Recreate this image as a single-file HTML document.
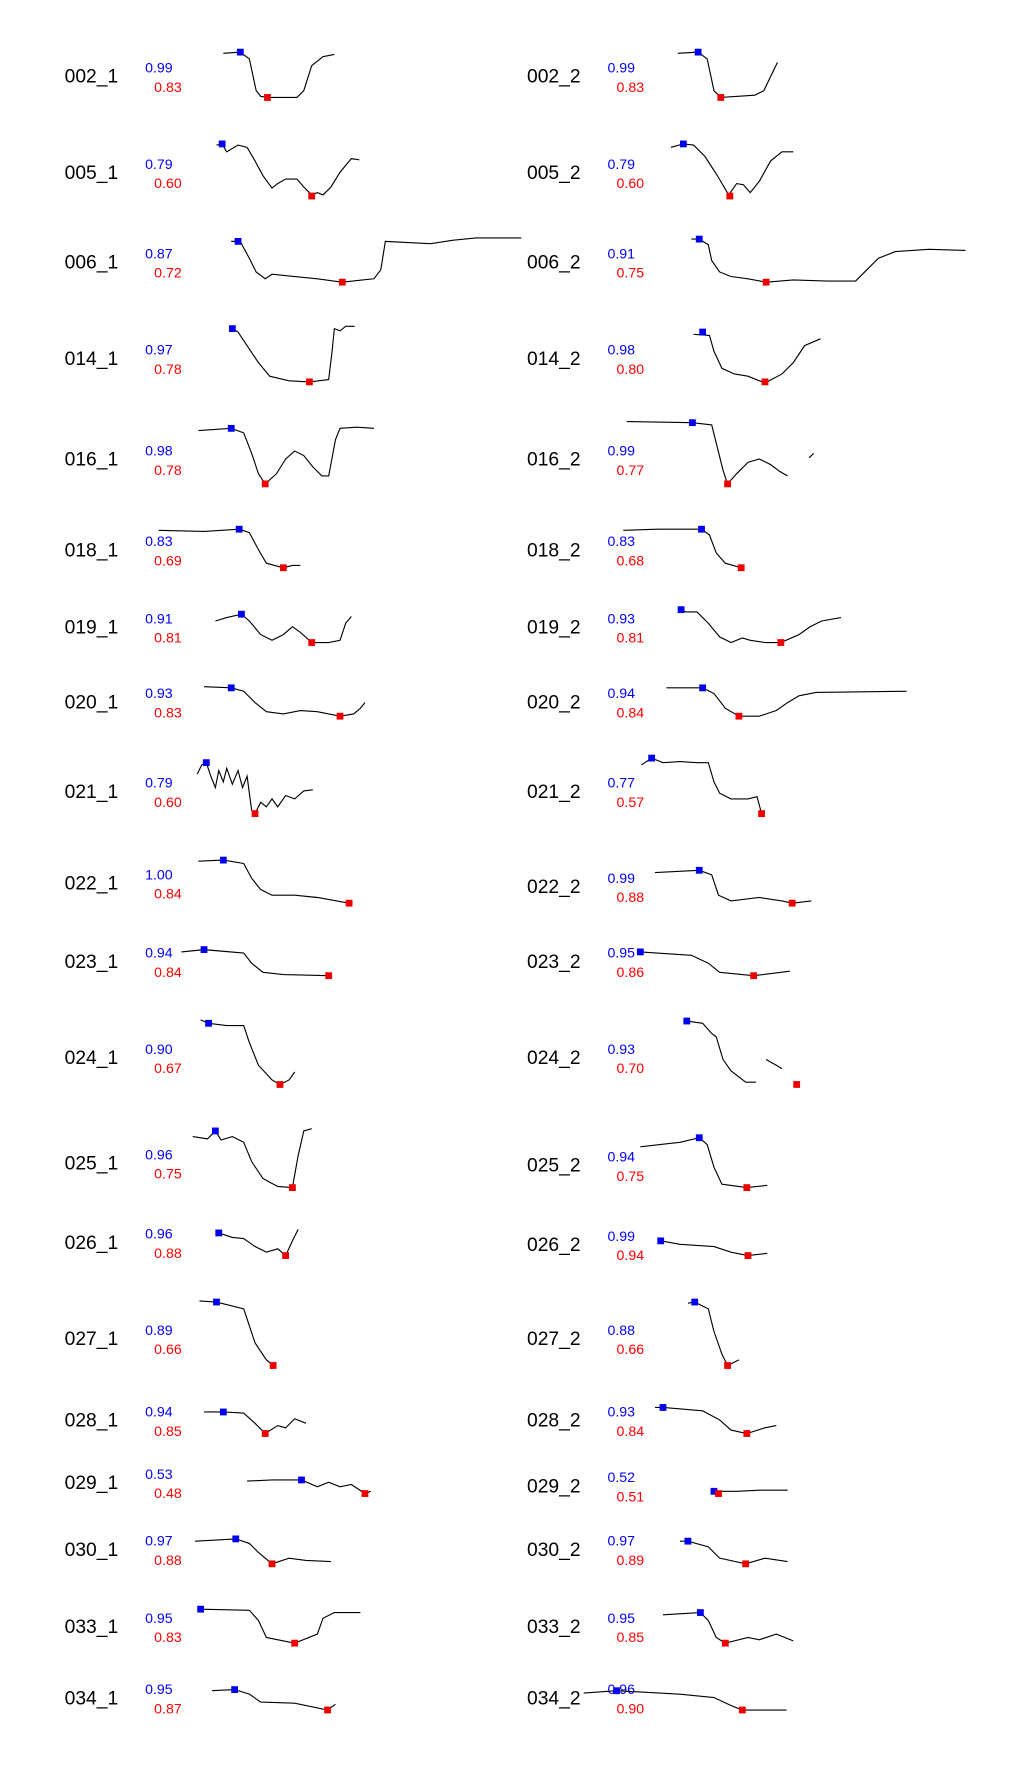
<!DOCTYPE html>
<html><head><meta charset="utf-8"><style>
html,body{margin:0;padding:0;background:#fff;width:1020px;height:1778px;overflow:hidden}
svg{display:block}
text{font-family:"Liberation Sans",sans-serif}
</style></head><body>
<svg id="s" width="1020" height="1778" viewBox="0 0 900 1569" xmlns="http://www.w3.org/2000/svg"></svg>
<script>
const D=[
// [label, x, y, blue, red, points, blueIdx pt, redIdx pt, extra segments]
["002_1",0,67,"0.99","0.83",[[197,47],[212,46],[220,52],[226,80],[230,85],[236,86],[262,86],[268,80],[275,58],[285,50],[295,48]],[212,46],[236,86]],
["002_2",1,67,"0.99","0.83",[[598,47],[616,46],[624,52],[630,80],[636,86],[666,84],[674,80],[686,55]],[616,46],[636,86]],
["005_1",0,152,"0.79","0.60",[[191,128],[196,127],[200,134],[210,128],[218,130],[225,142],[232,155],[240,166],[245,162],[252,158],[262,158],[268,165],[275,172],[280,170],[285,172],[292,165],[300,152],[310,140],[317,141]],[196,127],[275,173]],
["005_2",1,152,"0.79","0.60",[[592,130],[603,127],[612,128],[622,138],[633,155],[643,172],[650,162],[656,163],[662,170],[670,160],[680,142],[690,134],[700,134]],[603,127],[644,173]],
["006_1",0,231,"0.87","0.72",[[204,213],[210,213],[213,215],[220,228],[226,240],[234,246],[240,242],[260,244],[280,246],[302,249],[320,247],[330,246],[336,238],[340,213],[360,214],[380,215],[400,212],[420,210],[460,210]],[210,213],[302,249]],
["006_2",1,231,"0.91","0.75",[[610,211],[617,211],[625,216],[628,230],[635,240],[645,244],[660,246],[676,249],[700,247],[730,248],[755,248],[765,238],[775,228],[790,222],[820,220],[852,221]],[617,211],[676,249]],
["014_1",0,316,"0.97","0.78",[[205,290],[210,293],[220,308],[228,320],[238,332],[255,336],[273,337],[290,335],[293,310],[295,290],[300,292],[305,288],[313,288]],[205,290],[273,337]],
["014_2",1,316,"0.98","0.80",[[612,295],[626,296],[630,310],[637,325],[648,330],[660,332],[675,338],[690,330],[700,320],[710,305],[724,299]],[620,293],[675,337]],
["016_1",0,405,"0.98","0.78",[[175,380],[204,378],[215,382],[222,400],[228,418],[234,427],[244,418],[252,405],[260,398],[268,402],[276,412],[284,420],[290,420],[296,388],[300,378],[315,377],[330,378]],[204,378],[234,427]],
["016_2",1,405,"0.99","0.77",[[553,372],[611,373],[628,375],[633,395],[638,415],[642,427],[650,418],[660,408],[670,405],[680,410],[688,416],[695,420]],[611,373],[642,427],[[714,404],[718,400]]],
["018_1",0,485,"0.83","0.69",[[140,468],[180,469],[211,467],[220,470],[228,485],[235,497],[250,501],[258,499],[265,499]],[211,467],[250,501]],
["018_2",1,485,"0.83","0.68",[[550,468],[580,467],[619,467],[626,472],[632,488],[640,497],[654,501]],[619,467],[654,501]],
["019_1",0,553,"0.91","0.81",[[190,548],[200,545],[213,542],[220,548],[230,560],[240,565],[250,560],[258,553],[265,558],[275,567],[290,567],[300,565],[305,550],[310,544]],[213,542],[275,567]],
["019_2",1,553,"0.93","0.81",[[601,538],[605,540],[615,540],[625,550],[635,562],[645,567],[655,563],[662,565],[675,567],[689,567],[705,560],[715,553],[725,548],[742,545]],[601,538],[689,567]],
["020_1",0,619,"0.93","0.83",[[180,606],[204,607],[215,610],[225,620],[235,628],[250,630],[265,627],[280,628],[300,632],[312,630],[318,625],[322,620]],[204,607],[300,632]],
["020_2",1,619,"0.94","0.84",[[588,607],[620,607],[630,612],[640,625],[652,632],[670,632],[685,627],[695,620],[705,614],[720,611],[800,610]],[620,607],[652,632]],
["021_1",0,698,"0.79","0.60",[[174,683],[178,675],[182,673],[186,685],[190,695],[193,680],[197,690],[200,678],[205,692],[210,680],[214,695],[218,685],[220,700],[222,715],[225,718],[230,708],[235,712],[240,705],[245,712],[252,702],[260,705],[268,698],[276,697]],[182,673],[225,718]],
["021_2",1,698,"0.77","0.57",[[566,675],[575,669],[585,673],[600,672],[615,673],[625,673],[630,690],[635,700],[645,705],[660,705],[668,703],[672,718]],[575,669],[672,718]],
["022_1",0,779,"1.00","0.84",[[175,760],[197,759],[215,762],[222,775],[230,785],[240,790],[260,790],[280,792],[308,797]],[197,759],[308,797]],
["022_2",1,782,"0.99","0.88",[[578,770],[617,768],[628,772],[634,790],[645,795],[670,792],[690,795],[699,797],[716,795]],[617,768],[699,797]],
["023_1",0,848,"0.94","0.84",[[160,840],[180,838],[215,841],[222,850],[232,858],[250,860],[290,861]],[180,838],[290,861]],
["023_2",1,848,"0.95","0.86",[[565,840],[610,843],[625,850],[635,858],[665,861],[697,857]],[565,840],[665,861]],
["024_1",0,933,"0.90","0.67",[[177,900],[184,903],[200,905],[215,905],[220,920],[228,940],[240,953],[247,957],[255,953],[260,946]],[184,903],[247,957]],
["024_2",1,933,"0.93","0.70",[[606,901],[620,903],[628,912],[632,915],[638,935],[645,945],[658,955],[667,955]],[606,901],[703,957],[[676,935],[685,940],[690,943]]],
["025_1",0,1026,"0.96","0.75",[[170,1003],[183,1005],[190,998],[195,1006],[205,1003],[215,1008],[222,1025],[232,1040],[245,1047],[258,1048],[263,1020],[268,998],[275,996]],[190,998],[258,1048]],
["025_2",1,1028,"0.94","0.75",[[565,1012],[600,1008],[617,1004],[624,1010],[630,1030],[637,1045],[659,1048],[677,1046]],[617,1004],[659,1048]],
["026_1",0,1096,"0.96","0.88",[[193,1088],[205,1092],[215,1093],[225,1100],[235,1105],[245,1102],[252,1108],[258,1095],[263,1085]],[193,1088],[252,1108]],
["026_2",1,1098,"0.99","0.94",[[583,1095],[600,1098],[630,1100],[645,1105],[660,1108],[677,1106]],[583,1095],[660,1108]],
["027_1",0,1181,"0.89","0.66",[[176,1148],[191,1149],[215,1155],[220,1170],[225,1185],[235,1200],[241,1205]],[191,1149],[241,1205]],
["027_2",1,1181,"0.88","0.66",[[607,1150],[613,1149],[625,1155],[630,1175],[637,1195],[642,1205],[652,1200]],[613,1149],[642,1205]],
["028_1",0,1253,"0.94","0.85",[[180,1246],[197,1246],[215,1247],[225,1256],[234,1265],[245,1258],[252,1260],[260,1252],[270,1256]],[197,1246],[234,1265]],
["028_2",1,1253,"0.93","0.84",[[578,1242],[585,1242],[620,1245],[635,1253],[645,1262],[659,1265],[675,1260],[685,1258]],[585,1242],[659,1265]],
["029_1",0,1308,"0.53","0.48",[[218,1307],[240,1306],[266,1306],[280,1312],[290,1308],[300,1312],[310,1310],[322,1318],[327,1316]],[266,1306],[322,1318]],
["029_2",1,1311,"0.52","0.51",[[628,1316],[650,1316],[670,1315],[695,1315]],[630,1316],[634,1318]],
["030_1",0,1367,"0.97","0.88",[[172,1360],[208,1358],[220,1362],[228,1370],[240,1380],[255,1375],[270,1377],[292,1378]],[208,1358],[240,1380]],
["030_2",1,1367,"0.97","0.89",[[600,1360],[607,1360],[625,1365],[635,1375],[658,1380],[675,1375],[695,1378]],[607,1360],[658,1380]],
["033_1",0,1435,"0.95","0.83",[[177,1420],[220,1421],[228,1430],[235,1445],[260,1450],[280,1442],[285,1428],[295,1423],[318,1423]],[177,1420],[260,1450]],
["033_2",1,1435,"0.95","0.85",[[585,1425],[618,1423],[625,1430],[632,1445],[640,1450],[660,1445],[670,1447],[685,1442],[700,1448]],[618,1423],[640,1450]],
["034_1",0,1498,"0.95","0.87",[[187,1492],[207,1491],[220,1495],[230,1502],[260,1503],[289,1509],[296,1504]],[207,1491],[289,1509]],
["034_2",1,1498,"0.96","0.90",[[515,1494],[544,1492],[600,1495],[630,1498],[645,1505],[655,1509],[694,1509]],[544,1492],[655,1509]]
];
let h="";
for(const d of D){
 const [lab,c,y,b,r,pts,bp,rp,ext]=d;
 const ox=c?408:0;
 h+=`<text x="${57+ox}" y="${y+6}" font-size="17" fill="#000">${lab}</text>`;
 h+=`<text x="${128+ox}" y="${y-3}" font-size="12.5" fill="#0000ff">${b}</text>`;
 h+=`<text x="${136+ox}" y="${y+14}" font-size="12.5" fill="#ff0000">${r}</text>`;
 h+=`<polyline points="${pts.map(p=>p.join(',')).join(' ')}" fill="none" stroke="#000" stroke-width="1"/>`;
 if(ext)h+=`<polyline points="${ext.map(p=>p.join(',')).join(' ')}" fill="none" stroke="#000" stroke-width="1"/>`;
 h+=`<rect x="${bp[0]-3}" y="${bp[1]-3}" width="6" height="6" fill="#0000ee"/>`;
 h+=`<rect x="${rp[0]-3}" y="${rp[1]-3}" width="6" height="6" fill="#ee0000"/>`;
}
document.getElementById('s').innerHTML=h;
</script>
</body></html>
